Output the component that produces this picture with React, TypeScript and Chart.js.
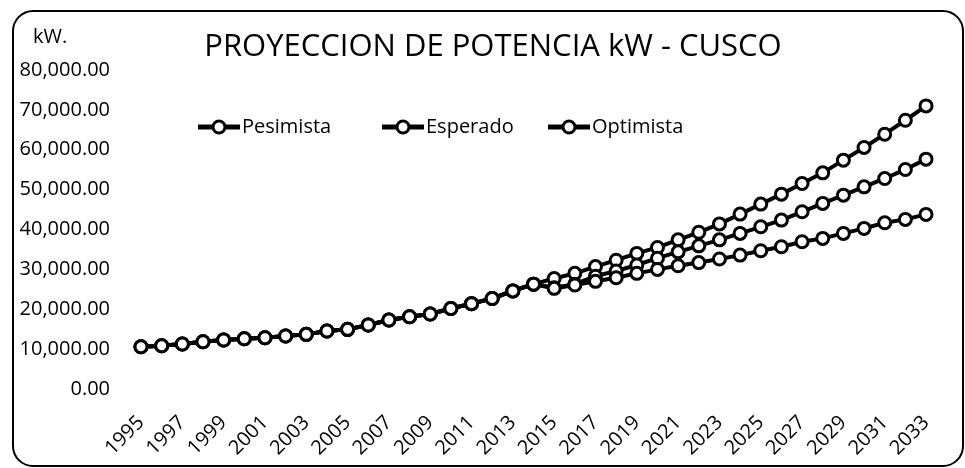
import React, { useEffect, useRef } from "react";
import { Chart, registerables } from "chart.js";

Chart.register(...registerables);

const years = [
  "1995", "1996", "1997", "1998", "1999", "2000", "2001", "2002", "2003", "2004",
  "2005", "2006", "2007", "2008", "2009", "2010", "2011", "2012", "2013", "2014",
  "2015", "2016", "2017", "2018", "2019", "2020", "2021", "2022", "2023", "2024",
  "2025", "2026", "2027", "2028", "2029", "2030", "2031", "2032", "2033",
];

const pesimista = [
  10600, 10850, 11280, 11850, 12300, 12600, 12850, 13280, 13700, 14540,
  14960, 16040, 17290, 18120, 18800, 20200, 21400, 22700, 24600, 26300,
  25240, 26070, 27000, 27900, 29000, 30000, 30900, 31700, 32600, 33580,
  34660, 35660, 36920, 37770, 39020, 40280, 41680, 42530, 43780,
];

const esperado = [
  10600, 10850, 11280, 11850, 12300, 12600, 12850, 13280, 13700, 14540,
  14960, 16040, 17290, 18120, 18800, 20200, 21400, 22700, 24600, 26300,
  25400, 26300, 28300, 29600, 31100, 32800, 34400, 35900, 37400, 39020,
  40680, 42360, 44440, 46540, 48620, 50700, 52800, 55060, 57640,
];

const optimista = [
  10600, 10850, 11280, 11850, 12300, 12600, 12850, 13280, 13700, 14540,
  14960, 16040, 17290, 18120, 18800, 20200, 21400, 22700, 24600, 26300,
  27700, 29000, 30700, 32300, 34000, 35500, 37400, 39300, 41400, 43860,
  46370, 48870, 51550, 54210, 57390, 60580, 63900, 67400, 71000,
];

const seriesNames = ["Pesimista", "Esperado", "Optimista"];
const TITLE = "PROYECCION DE POTENCIA kW - CUSCO";
const UNIT = "kW.";
const Y_MIN = 0;
const Y_MAX = 80000;
const Y_STEP = 10000;

const FONT = "'Open Sans', 'Noto Sans', sans-serif";
const LEGEND_X = [198, 382, 548];

const decorPlugin = {
  id: "decor",
  beforeDraw(chart: any) {
    const ctx = chart.ctx;
    ctx.save();
    ctx.fillStyle = "#fff";
    ctx.fillRect(0, 0, chart.width, chart.height);
    const x = 13, y = 11, w = 950, h = 455, r = 20;
    ctx.beginPath();
    ctx.moveTo(x + r, y);
    ctx.lineTo(x + w - r, y);
    ctx.arcTo(x + w, y, x + w, y + r, r);
    ctx.lineTo(x + w, y + h - r);
    ctx.arcTo(x + w, y + h, x + w - r, y + h, r);
    ctx.lineTo(x + r, y + h);
    ctx.arcTo(x, y + h, x, y + h - r, r);
    ctx.lineTo(x, y + r);
    ctx.arcTo(x, y, x + r, y, r);
    ctx.closePath();
    ctx.lineWidth = 2;
    ctx.strokeStyle = "#000";
    ctx.stroke();
    ctx.restore();
  },
  afterDraw(chart: any) {
    const ctx = chart.ctx;
    ctx.save();
    ctx.fillStyle = "#000";
    ctx.textBaseline = "middle";

    ctx.font = `31px ${FONT}`;
    ctx.textAlign = "center";
    ctx.fillText(TITLE, 493, 47);

    ctx.font = `20px ${FONT}`;
    ctx.textAlign = "left";
    ctx.fillText(UNIT, 33, 37);

    const ly = 127;
    chart.data.datasets.forEach((ds: any, i: number) => {
      const lx = LEGEND_X[i];
      ctx.beginPath();
      ctx.moveTo(lx, ly);
      ctx.lineTo(lx + 42, ly);
      ctx.lineWidth = 5;
      ctx.strokeStyle = "#000";
      ctx.stroke();
      ctx.beginPath();
      ctx.arc(lx + 21, ly, 6, 0, Math.PI * 2);
      ctx.fillStyle = "#fff";
      ctx.fill();
      ctx.lineWidth = 3;
      ctx.stroke();
      ctx.fillStyle = "#000";
      ctx.fillText(ds.label, lx + 44, ly);
    });
    ctx.restore();
  },
};

export default function App() {
  const ref = useRef<HTMLCanvasElement | null>(null);

  useEffect(() => {
    if (!ref.current) return;
    const seriesData = [pesimista, esperado, optimista];
    const chart = new Chart(ref.current, {
      type: "line",
      data: {
        labels: years,
        datasets: seriesNames.map((name, i) => ({
          label: name,
          data: seriesData[i],
          borderColor: "#000",
          borderWidth: 4,
          backgroundColor: "#fff",
          pointRadius: 6,
          pointBorderWidth: 3,
          pointBackgroundColor: "#fff",
          pointBorderColor: "#000",
          tension: 0,
          fill: false,
        })),
      },
      options: {
        animation: false,
        responsive: false,
        devicePixelRatio: 1,
        layout: { padding: { left: 20, right: 23, top: 70, bottom: 0 } },
        plugins: {
          legend: { display: false },
          tooltip: { enabled: false },
          title: { display: false },
        },
        scales: {
          x: {
            grid: { display: false, drawTicks: false },
            border: { display: false },
            ticks: {
              autoSkip: false,
              minRotation: 45,
              maxRotation: 45,
              padding: 22,
              color: "#000",
              font: { family: FONT, size: 20 },
              callback: (_v: any, i: number) => (i % 2 === 0 ? years[i] : ""),
            },
            afterFit: (s: any) => {
              s.height = 79;
            },
          },
          y: {
            min: Y_MIN,
            max: Y_MAX,
            grid: { display: false, drawTicks: false },
            border: { display: false },
            ticks: {
              stepSize: Y_STEP,
              padding: 31,
              color: "#000",
              font: { family: FONT, size: 20 },
              callback: (v: any) =>
                Number(v).toLocaleString("en-US", {
                  minimumFractionDigits: 2,
                  maximumFractionDigits: 2,
                }),
            },
            afterFit: (s: any) => {
              s.width = 121;
            },
          },
        },
      },
      plugins: [decorPlugin],
    });
    return () => chart.destroy();
  }, []);

  return (
    <div style={{ position: "absolute", left: 0, top: 0, width: 965, height: 468 }}>
      <canvas ref={ref} width={965} height={468} style={{ display: "block" }} />
    </div>
  );
}
